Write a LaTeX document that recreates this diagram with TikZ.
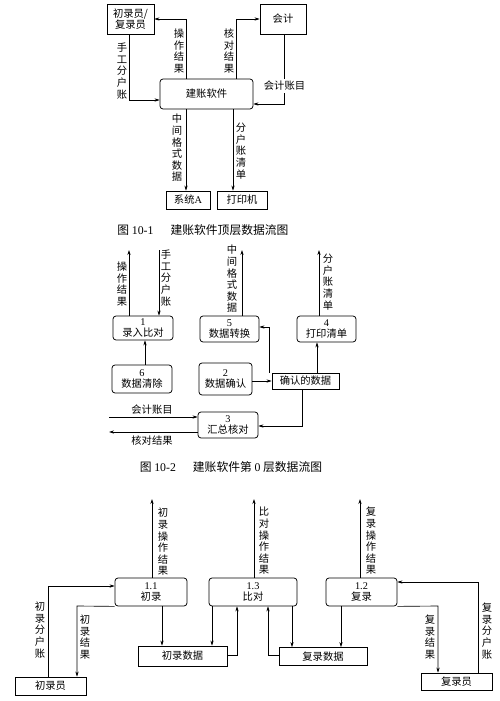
\documentclass[tikz,border=0pt]{standalone}
\usepackage{fontspec}
\setmainfont{Noto Sans CJK SC}
\newfontfamily\lat{Liberation Serif}
\usetikzlibrary{arrows.meta}
\begin{document}
\begin{tikzpicture}[x=1pt,y=-1pt,
 every node/.style={font=\fontsize{10.3}{11.6}\selectfont, inner sep=0pt, align=center},
 box/.style={draw, line width=0.75pt},
 rbox/.style={box, rounded corners=3pt},
 arr/.style={line width=0.65pt, -{Stealth[length=5pt,width=3.2pt]}},
 captxt/.style={font=\fontsize{11.8}{13}\selectfont}]
\fill[white] (0,0) rectangle (500,701);
\useasboundingbox (0,0) rectangle (500,701);

% ---------- Figure 10-1 ----------
\node[box, minimum width=47pt, minimum height=30pt] (A) at (130.5,19) {初录员/\\复录员};
\node[box, minimum width=46pt, minimum height=30pt] (K) at (283,19) {会计};
\node[rbox, minimum width=93pt, minimum height=30pt] (S) at (206.5,94) {建账软件};
\node[box, minimum width=44pt, minimum height=18pt] (SA) at (188,200) {系统{\lat A}};
\node[box, minimum width=50pt, minimum height=18pt] (P) at (242,200) {打印机};

\draw[arr] ([xshift=-20.5pt]S.north) |- (A.east);
\draw[arr] ([xshift=-1.5pt]A.south) |- ([yshift=-6pt]S.west);
\draw[arr] ([xshift=29.5pt]S.north) |- (K.west);
\draw[arr] ([xshift=1pt]K.south) |- ([yshift=-10pt]S.east);
\draw[arr] ([xshift=-20.5pt]S.south) -- ([xshift=-20.5pt]S.south |- SA.north);
\draw[arr] ([xshift=26.5pt]S.south) -- ([xshift=26.5pt]S.south |- P.north);

\node (la1) at (179,51) {操\\作\\结\\果};
\node (la2) at (122,71) {手\\工\\分\\户\\账};
\node (la3) at (229,51) {核\\对\\结\\果};
\node[fill=white, inner ysep=2pt] (la4) at (284.5,86) {会计账目};
\node (la5) at (177,148) {中\\间\\格\\式\\数\\据};
\node (la6) at (241,151) {分\\户\\账\\清\\单};
\node[captxt] (cap1) at (203,230) {图 {\lat 10-1}\hspace{17pt}建账软件顶层数据流图};

% ---------- Figure 10-2 ----------
\node[rbox, minimum width=60pt, minimum height=24pt] (B1) at (143,328) {{\lat 1}\\录入比对};
\node[rbox, minimum width=59pt, minimum height=26pt] (B5) at (229.5,329) {{\lat 5}\\数据转换};
\node[rbox, minimum width=59pt, minimum height=26pt] (B4) at (326.5,329) {{\lat 4}\\打印清单};
\node[rbox, minimum width=60pt, minimum height=28pt] (B6) at (142,379) {{\lat 6}\\数据清除};
\node[rbox, minimum width=53pt, minimum height=32pt] (B2) at (225.5,379) {{\lat 2}\\数据确认};
\node[box, minimum width=67pt, minimum height=16pt] (D) at (305.5,381) {确认的数据};
\node[rbox, minimum width=60pt, minimum height=26pt] (B3) at (228,425) {{\lat 3}\\汇总核对};

\coordinate (t1) at (129,250);
\coordinate (t2) at (159,250);
\coordinate (t5) at (242,250);
\coordinate (t4) at (319,250);
\coordinate (h1) at (109,417);
\coordinate (h2) at (109,432);
\draw[arr] (B1.north -| t1) -- (t1);
\draw[arr] (t2) -- (t2 |- B1.north);
\draw[arr] (B5.north -| t5) -- (t5);
\draw[arr] (B4.north -| t4) -- (t4);
\draw[arr] ([xshift=3pt]B6.north) -- ([xshift=3pt]B6.north |- B1.south);
\draw[arr] ([xshift=-2pt]D.north west) |- ([yshift=2pt]B5.east);
\draw[arr] ([xshift=11.5pt]D.north) -- ([xshift=11.5pt]D.north |- B4.south);
\draw[arr] (B2.east |- D.west) -- (D.west);
\draw[arr] ([xshift=-3.5pt]D.south) |- ([yshift=-1pt]B3.east);
\draw[arr] (h1) -- (h1 -| B3.west);
\draw[arr] (h2 -| B3.west) -- (h2);

\node (lb1) at (122,284) {操\\作\\结\\果};
\node (lb2) at (166,278) {手\\工\\分\\户\\账};
\node (lb3) at (232,279) {中\\间\\格\\式\\数\\据};
\node (lb4) at (328,282) {分\\户\\账\\清\\单};
\node (lb5) at (152,410) {会计账目};
\node (lb6) at (152,441) {核对结果};
\node[captxt] (cap2) at (231,467) {图 {\lat 10-2}\hspace{17pt}建账软件第 {\lat 0} 层数据流图};

% ---------- Figure 10-3 ----------
\node[rbox, minimum width=72pt, minimum height=28pt] (C11) at (151,592) {{\lat 1.1}\\初录};
\node[rbox, minimum width=88pt, minimum height=28pt] (C13) at (253,592) {{\lat 1.3}\\比对};
\node[rbox, minimum width=71pt, minimum height=28pt] (C12) at (361.5,592) {{\lat 1.2}\\复录};
\node[box, minimum width=71pt, minimum height=18pt] (R1) at (50.5,686) {初录员};
\node[box, minimum width=71pt, minimum height=17pt] (R2) at (456.5,681.5) {复录员};
\node[box, minimum width=89pt, minimum height=20pt] (D1) at (182.5,656) {初录数据};
\node[box, minimum width=88pt, minimum height=18pt] (D2) at (323,656.5) {复录数据};

\coordinate (u1) at (152,499);
\coordinate (u3) at (254,499);
\coordinate (u2) at (360,499);
\coordinate (k1) at (77,606);
\coordinate (k2) at (438,606);
\draw[arr] (C11.north -| u1) -- (u1);
\draw[arr] (C13.north -| u3) -- (u3);
\draw[arr] (C12.north -| u2) -- (u2);
\draw[arr] ([xshift=-2.5pt]R1.north) |- ([yshift=6pt]C11.west);
\draw[arr] (C11.south west) -- (k1) -- (k1 |- R1.north);
\draw[arr] ([xshift=11pt]C11.south) -- ([xshift=11pt]C11.south |- D1.north);
\draw[arr] ([xshift=-41pt]C13.south) -- ([xshift=-41pt]C13.south |- D1.north);
\draw[arr] ([yshift=1pt]D1.east) -| ([xshift=-16pt]C13.south);
\draw[arr] ([yshift=1.5pt]D2.west) -| ([xshift=15pt]C13.south);
\draw[arr] ([xshift=39pt]C13.south) -- ([xshift=39pt]C13.south |- D2.north);
\draw[arr] ([xshift=-20.5pt]C12.south) -- ([xshift=-20.5pt]C12.south |- D2.north);
\draw[arr] (C12.south east) -- (k2) -- (k2 |- R2.north);
\draw[arr] ([xshift=21.5pt]R2.north) |- ([yshift=10pt]C12.east);

\node (lc1) at (163,542) {初\\录\\操\\作\\结\\果};
\node (lc2) at (264,541) {比\\对\\操\\作\\结\\果};
\node (lc3) at (371,541) {复\\录\\操\\作\\结\\果};
\node (lc4) at (40,630) {初\\录\\分\\户\\账};
\node (lc5) at (85,637) {初\\录\\结\\果};
\node (lc6) at (430,637) {复\\录\\结\\果};
\node (lc7) at (487,631) {复\\录\\分\\户\\账};
\end{tikzpicture}
\end{document}
